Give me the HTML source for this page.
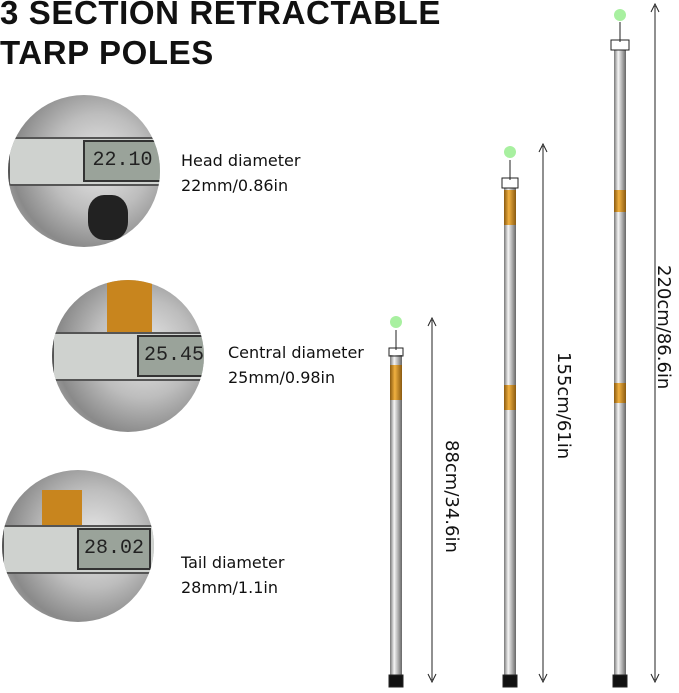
<!DOCTYPE html>
<html><head><meta charset="utf-8"><style>
body{margin:0;width:679px;height:693px;background:#fff;position:relative;overflow:hidden;font-family:"Liberation Sans",sans-serif;}
.t{position:absolute;left:0;top:-7px;font-weight:bold;font-size:33px;line-height:40px;color:#111;letter-spacing:0.6px}
.l{position:absolute;font-size:16px;line-height:25px;color:#111;font-family:"DejaVu Sans","Liberation Sans",sans-serif}
.c{position:absolute;border-radius:50%;background:radial-gradient(circle at 60% 45%,#e8e8e8 0,#bdbdbd 40%,#8a8a8a 70%,#cfcfcf 100%);overflow:hidden}
.c .s{position:absolute;background:#cfd2cf;border:2px solid #555;border-radius:3px}
.c .d{position:absolute;background:#9aa39a;border:2px solid #333;font-family:"Liberation Mono",monospace;font-size:20px;color:#222;text-align:center}
.v{position:absolute;font-size:18px;color:#111;font-family:"DejaVu Sans",sans-serif;transform:rotate(90deg);transform-origin:left top;white-space:nowrap}
</style></head><body>
<div class="t">3 SECTION RETRACTABLE<br>TARP POLES</div>

<div class="c" style="left:8px;top:95px;width:152px;height:152px">
<div class="s" style="left:0;top:42px;width:150px;height:45px"></div>
<div class="d" style="left:75px;top:45px;width:75px;height:38px;line-height:38px">22.10</div>
<div style="position:absolute;left:80px;top:100px;width:40px;height:45px;background:#222;border-radius:40%"></div></div>
<div class="l" style="left:181px;top:148px">Head diameter<br>22mm/0.86in</div>

<div class="c" style="left:52px;top:280px;width:152px;height:152px">
<div style="position:absolute;left:55px;top:0;width:45px;height:70px;background:#c8851e"></div>
<div class="s" style="left:0;top:52px;width:150px;height:45px"></div>
<div class="d" style="left:85px;top:55px;width:70px;height:38px;line-height:38px">25.45</div></div>
<div class="l" style="left:228px;top:340px">Central diameter<br>25mm/0.98in</div>

<div class="c" style="left:2px;top:470px;width:152px;height:152px">
<div style="position:absolute;left:40px;top:20px;width:40px;height:40px;background:#c8851e"></div>
<div class="s" style="left:0;top:55px;width:150px;height:45px"></div>
<div class="d" style="left:75px;top:58px;width:70px;height:38px;line-height:38px">28.02</div></div>
<div class="l" style="left:181px;top:550px">Tail diameter<br>28mm/1.1in</div>

<svg width="679" height="693" style="position:absolute;left:0;top:0">
<defs><linearGradient id="g" x1="0" x2="1"><stop offset="0" stop-color="#777"/><stop offset="0.35" stop-color="#f4f4f4"/><stop offset="0.7" stop-color="#aaa"/><stop offset="1" stop-color="#666"/></linearGradient>
<linearGradient id="o" x1="0" x2="1"><stop offset="0" stop-color="#8a5a10"/><stop offset="0.4" stop-color="#f0b040"/><stop offset="1" stop-color="#8a5a10"/></linearGradient></defs>
<g stroke="#222" stroke-width="1">
<rect x="390" y="355" width="12" height="325" fill="url(#g)" stroke="none"/>
<rect x="390" y="365" width="12" height="35" fill="url(#o)" stroke="none"/>
<rect x="389" y="675" width="14" height="12" fill="#111"/>
<rect x="389" y="348" width="14" height="8" fill="none"/>
<line x1="396" y1="330" x2="396" y2="350"/>
<circle cx="396" cy="322" r="6" fill="#a8f0a0" stroke="none"/>
<rect x="504" y="188" width="12" height="492" fill="url(#g)" stroke="none"/>
<rect x="504" y="190" width="12" height="35" fill="url(#o)" stroke="none"/>
<rect x="504" y="385" width="12" height="25" fill="url(#o)" stroke="none"/>
<rect x="503" y="675" width="14" height="12" fill="#111"/>
<rect x="502" y="178" width="16" height="10" fill="none"/>
<line x1="510" y1="160" x2="510" y2="180"/>
<circle cx="510" cy="152" r="6" fill="#a8f0a0" stroke="none"/>
<rect x="614" y="50" width="12" height="630" fill="url(#g)" stroke="none"/>
<rect x="614" y="190" width="12" height="22" fill="url(#o)" stroke="none"/>
<rect x="614" y="383" width="12" height="20" fill="url(#o)" stroke="none"/>
<rect x="613" y="675" width="14" height="12" fill="#111"/>
<rect x="611" y="40" width="18" height="10" fill="none"/>
<line x1="620" y1="22" x2="620" y2="42"/>
<circle cx="620" cy="15" r="6" fill="#a8f0a0" stroke="none"/>
<line x1="432" y1="320" x2="432" y2="680"/><path d="M428 326 L432 318 L436 326 M428 674 L432 682 L436 674" fill="none"/>
<line x1="543" y1="146" x2="543" y2="680"/><path d="M539 152 L543 144 L547 152 M539 674 L543 682 L547 674" fill="none"/>
<line x1="655" y1="6" x2="655" y2="680"/><path d="M651 12 L655 4 L659 12 M651 674 L655 682 L659 674" fill="none"/>
</g></svg>
<div class="v" style="left:462px;top:440px">88cm/34.6in</div>
<div class="v" style="left:574px;top:352px">155cm/61in</div>
<div class="v" style="left:674px;top:265px">220cm/86.6in</div>
</body></html>
